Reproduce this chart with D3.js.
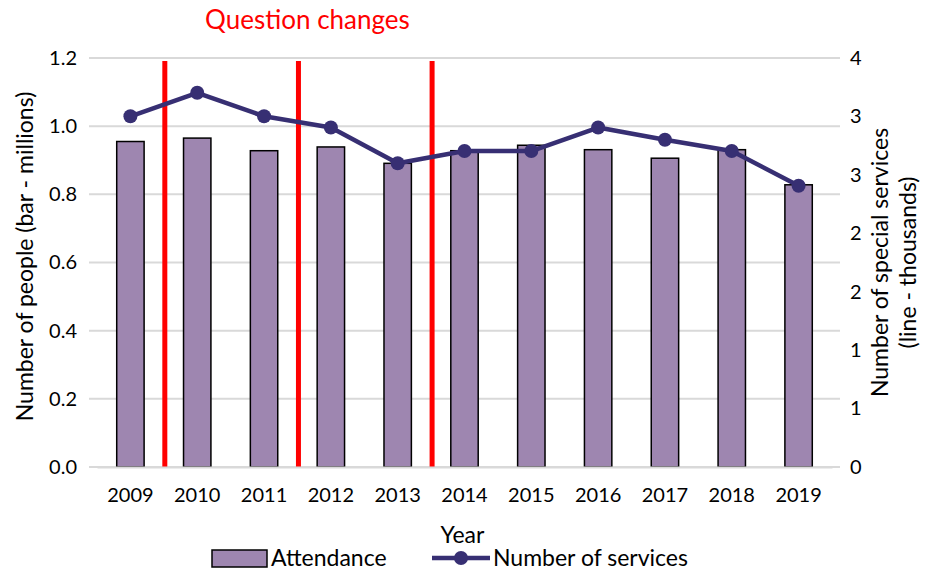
<!DOCTYPE html>
<html>
<head>
<meta charset="utf-8">
<script src="https://cdn.jsdelivr.net/npm/d3@7"></script>
<style>
  body { margin: 0; background: #fff; }
  text { font-family: Lato, "Open Sans", sans-serif; fill: #000; }
</style>
</head>
<body>
<div id="chart"></div>
<script>
// attendance (bars, millions) vs number of special services (line, thousands)
var years = ["2009","2010","2011","2012","2013","2014","2015","2016","2017","2018","2019"];
var attendance = [0.955, 0.965, 0.928, 0.939, 0.891, 0.928, 0.944, 0.931, 0.906, 0.931, 0.828];
var services = [3.43, 3.66, 3.43, 3.32, 2.97, 3.09, 3.09, 3.32, 3.20, 3.09, 2.75];
var questionChangeAfter = ["2009", "2011", "2013"];
var leftTicks = [0, 0.2, 0.4, 0.6, 0.8, 1.0, 1.2];
var rightTicks = [0, 4/7, 8/7, 12/7, 16/7, 20/7, 24/7, 4];

var margin = {top: 58, right: 93, bottom: 104, left: 97},
    width = 925 - margin.left - margin.right,
    height = 571 - margin.top - margin.bottom;

var svg = d3.select("#chart")
  .append("svg")
  .attr("width", 925)
  .attr("height", 571)
  .append("g")
  .attr("transform", "translate(" + margin.left + "," + margin.top + ")");

var x = d3.scaleBand().domain(years).range([0, width]).padding(0);
var yL = d3.scaleLinear().domain([0, 1.2]).range([height, 0]);
var yR = d3.scaleLinear().domain([0, 4]).range([height, 0]);

var barW = x.bandwidth() * 0.41;

// gridlines
svg.append("g")
  .selectAll("line")
  .data(leftTicks)
  .enter().append("line")
  .attr("x1", -8)
  .attr("x2", width + 8)
  .attr("y1", function(d) { return yL(d); })
  .attr("y2", function(d) { return yL(d); })
  .attr("stroke", "#d9d9d9")
  .attr("stroke-width", 2);

// bars
svg.selectAll(".bar")
  .data(years)
  .enter().append("rect")
  .attr("class", "bar")
  .attr("x", function(d) { return x(d) + (x.bandwidth() - barW) / 2; })
  .attr("width", barW)
  .attr("y", function(d, i) { return yL(attendance[i]); })
  .attr("height", function(d, i) { return height - yL(attendance[i]); })
  .attr("fill", "#9e86b0")
  .attr("stroke", "#000")
  .attr("stroke-width", 1.5);

// red lines where the question changed
svg.selectAll(".qline")
  .data(questionChangeAfter)
  .enter().append("line")
  .attr("class", "qline")
  .attr("x1", function(d) { return x(d) + x.bandwidth() + 1; })
  .attr("x2", function(d) { return x(d) + x.bandwidth() + 1; })
  .attr("y1", 3)
  .attr("y2", height)
  .attr("stroke", "#ff0000")
  .attr("stroke-width", 5);

svg.append("text")
  .attr("x", x(questionChangeAfter[1]) + x.bandwidth() + 10)
  .attr("y", -29)
  .style("text-anchor", "middle")
  .style("font-size", "26px")
  .style("fill", "#ff0000")
  .text("Question changes");

// line
var line = d3.line()
  .x(function(d, i) { return x(years[i]) + x.bandwidth() / 2; })
  .y(function(d) { return yR(d); });

svg.append("path")
  .datum(services)
  .attr("d", line)
  .attr("fill", "none")
  .attr("stroke", "#372f73")
  .attr("stroke-width", 4.5)
  .attr("stroke-linejoin", "round");

svg.selectAll(".dot")
  .data(services)
  .enter().append("circle")
  .attr("class", "dot")
  .attr("cx", function(d, i) { return x(years[i]) + x.bandwidth() / 2; })
  .attr("cy", function(d) { return yR(d); })
  .attr("r", 7)
  .attr("fill", "#372f73");

// x axis
var xAxis = svg.append("g")
  .attr("transform", "translate(0," + height + ")")
  .call(d3.axisBottom(x).tickSize(0).tickPadding(21));
xAxis.select(".domain").attr("stroke", "#d9d9d9").attr("stroke-width", 2);
xAxis.selectAll("text").style("font-size", "20px").attr("font-family", null);

// left axis
var left = svg.append("g")
  .call(d3.axisLeft(yL).tickValues(leftTicks).tickFormat(d3.format(".1f")).tickSize(0).tickPadding(20));
left.select(".domain").remove();
left.selectAll("text").style("font-size", "20px").attr("font-family", null);

// right axis
var right = svg.append("g")
  .attr("transform", "translate(" + width + ",0)")
  .call(d3.axisRight(yR).tickValues(rightTicks).tickFormat(d3.format(".0f")).tickSize(0).tickPadding(18));
right.select(".domain").remove();
right.selectAll("text").style("font-size", "20px").attr("font-family", null);

// axis titles
svg.append("text")
  .attr("transform", "rotate(-90)")
  .attr("x", -height / 2 + 6)
  .attr("y", -margin.left + 33)
  .style("text-anchor", "middle")
  .style("font-size", "23px")
  .text("Number of people (bar - millions)");

var rt = svg.append("text")
  .attr("transform", "translate(" + (width + 56) + "," + (height / 2) + ") rotate(-90)")
  .style("text-anchor", "middle")
  .style("font-size", "23px");
rt.append("tspan").attr("x", 0).attr("dy", 0).text("Number of special services");
rt.append("tspan").attr("x", 0).attr("dy", 28).text("(line -  thousands)");

svg.append("text")
  .attr("x", width / 2 - 2)
  .attr("y", height + 76)
  .style("text-anchor", "middle")
  .style("font-size", "23px")
  .text("Year");

// legend
var lg = svg.append("g").attr("transform", "translate(0," + (height + 91) + ")");
lg.append("rect")
  .attr("x", 115).attr("y", -8)
  .attr("width", 55).attr("height", 17)
  .attr("fill", "#9e86b0")
  .attr("stroke", "#000")
  .attr("stroke-width", 1.5);
lg.append("text")
  .attr("x", 174).attr("y", 8)
  .style("font-size", "23px")
  .text("Attendance");
lg.append("line")
  .attr("x1", 335).attr("x2", 393)
  .attr("y1", 0).attr("y2", 0)
  .attr("stroke", "#372f73")
  .attr("stroke-width", 4.5);
lg.append("circle")
  .attr("cx", 364).attr("cy", 0).attr("r", 7)
  .attr("fill", "#372f73");
lg.append("text")
  .attr("x", 396).attr("y", 8)
  .style("font-size", "23px")
  .text("Number of services");
</script>
</body>
</html>
